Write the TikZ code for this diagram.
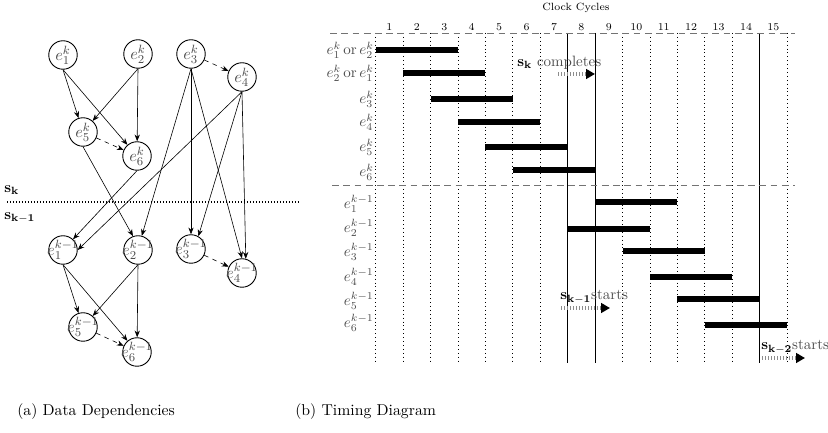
\documentclass[tikz,border=0pt]{standalone}
\usetikzlibrary{arrows.meta}

\begin{document}
\begin{tikzpicture} [
                x=0.6667pt, y=-0.6667pt,
                vertex/.style={circle,draw,semithick,minimum size=19pt,inner sep=0pt,text=black!70,
                    font=\fontsize{11}{13}\selectfont},
                edge/.style = {draw,-{Stealth[length=4.5pt,width=3.5pt]}},
                weak/.style = {edge,dashed},
                tick/.style = {draw,dotted,semithick},
                sep/.style = {draw=black!55,semithick,dash pattern=on 4.5pt off 3pt},
                bar/.style = {draw,line width=3.4pt},
                rowlab/.style = {anchor=east,text=black!70,inner sep=0pt},
                num/.style = {font=\scriptsize,inner sep=1pt},
                note/.style = {anchor=west,inner sep=0pt},
                capt/.style = {anchor=west,inner sep=0pt,font=\fontsize{10.5}{12.6}\selectfont},
                sarrow/.style = {draw=black!45,line width=3pt,dash pattern=on 0.7pt off 1.3pt,
                    -{Triangle[length=6pt,width=6.5pt,black]}},
            ]
            \useasboundingbox (0,0) rectangle (828,433);
            % (a) data dependencies
            \foreach \pos/\name/\lab in {
                    {(63,55)/k1/e_1^k}, {(138,54)/k2/e_2^k}, {(191,54)/k3/e_3^k},
                    {(242,77)/k4/e_4^k}, {(83,132)/k5/e_5^k}, {(137,156)/k6/e_6^k},
                    {(63,250)/km1/e_1^{k-1}}, {(138,250)/km2/e_2^{k-1}}, {(191,249)/km3/e_3^{k-1}},
                    {(242,273)/km4/e_4^{k-1}}, {(83,327)/km5/e_5^{k-1}}, {(137,352)/km6/e_6^{k-1}}}
                \node[vertex] (\name) at \pos {\makebox[0pt]{$\lab$}};
            \foreach \source/ \dest in {
                    k1.south/k5, k1.south/k6, k2.south/k5, k2.south/k6,
                    km1.south/km5, km1.south/km6, km2.south/km5, km2.south/km6,
                    k5.south/km2.110, k6.south/km1, k4.south/km1.east, k3.south/km2.75,
                    k3.south/km3.north, k3.south/km4.north, k4.south/km3.60, k4.south/km4.75}
                \draw[edge] (\source) -- (\dest);
            \foreach \source/ \dest in {
                    k5/k6, k3/k4, km5/km6, km3/km4}
                \draw[weak] (\source) -- (\dest);
            \draw[densely dotted,line width=1pt] (7,202) -- (300,202);
            \node[note] (sk) at (4,190) {$\mathbf{s_k}$};
            \node[note] (skm) at (4,218) {$\mathbf{s_{k-1}}$};
            \node[capt] (capa) at (17,412) {(a) Data Dependencies};
            % (b) timing diagram
            \node[num] (title) at (576,8) {Clock Cycles};
            \foreach \n in {1,...,15}
                \node[num] (n\n) at (375.7+27.43*\n-13.7,27) {\n};
            \foreach \i in {0,...,6,9,10,11,12,13,15}
                \draw[tick] (375.7+27.43*\i,33) -- (375.7+27.43*\i,363);
            \foreach \i in {7,8,14}
                \draw (375.7+27.43*\i,33) -- (375.7+27.43*\i,363);
            \draw[sep] (330,33) -- (795,33);
            \draw[sep] (332,185) -- (795,185);
            \foreach \s/\e/\y in {0/3/50, 1/4/73, 2/5/99, 3/6/122, 4/7/147, 5/8/170,
                    8/11/202, 7/10/229, 9/12/251, 10/13/277, 11/14/299, 12/15/325}
                \draw[bar] (375.7+27.43*\s,\y) -- (375.7+27.43*\e,\y);
            \foreach \r/\y/\t in {
                    1/50/{$e_1^k\,$or$\,e_2^k$}, 2/73/{$e_2^k\,$or$\,e_1^k$}, 3/99/{$e_3^k$},
                    4/122/{$e_4^k$}, 5/147/{$e_5^k$}, 6/172/{$e_6^k$},
                    7/204/{$e_1^{k-1}$}, 8/228/{$e_2^{k-1}$}, 9/252/{$e_3^{k-1}$},
                    10/277/{$e_4^{k-1}$}, 11/301/{$e_5^{k-1}$}, 12/323/{$e_6^{k-1}$}}
                \node[rowlab] (r\r) at (374,\y) {\t};
            \node[note] (tk) at (517,63) {$\mathbf{s_k}$ \textcolor{black!70}{completes}};
            \coordinate (tka) at (558,74);
            \coordinate (tkb) at (595,74);
            \path[sarrow] (tka) -- (tkb);
            \node[note] (tkm) at (560,297) {$\mathbf{s_{k-1}}$\textcolor{black!70}{starts}};
            \coordinate (tkma) at (561,308);
            \coordinate (tkmb) at (610,308);
            \path[sarrow] (tkma) -- (tkmb);
            \node[note] (tkn) at (761,347) {$\mathbf{s_{k-2}}$\textcolor{black!70}{starts}};
            \coordinate (tkna) at (762,358);
            \coordinate (tknb) at (805,358);
            \path[sarrow] (tkna) -- (tknb);
            \node[capt] (capb) at (295,412) {(b) Timing Diagram};
        \end{tikzpicture}
\end{document}
